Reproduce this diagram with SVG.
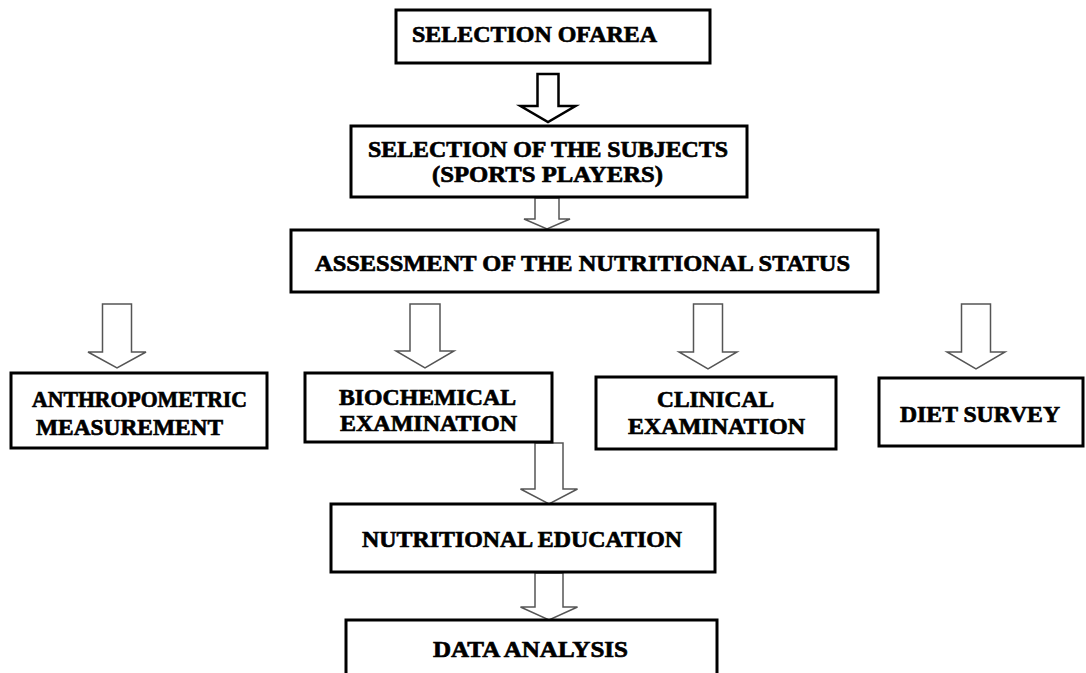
<svg xmlns="http://www.w3.org/2000/svg" width="1086" height="673" viewBox="0 0 1086 673">
<style>
.bx{fill:#fff;stroke:#000;stroke-width:3}
.t{font-family:"Liberation Serif","Times New Roman",serif;font-weight:bold;font-size:24px;fill:#000;stroke:#000;stroke-width:0.7}
.ar{fill:#fff;stroke:#555;stroke-width:1.5;stroke-linejoin:miter}
.ar1{fill:#fff;stroke:#000;stroke-width:2.5;stroke-linejoin:miter}
</style>
<rect width="1086" height="673" fill="#fff"/>
<g id="connectors">
<polygon class="ar1" points="537.5,74 558.5,74 558.5,106 575.5,106 548,122 520.5,106 537.5,106"/>
<polygon class="ar" points="535,198 559,198 559,219 570,219 547,229 524,219 535,219"/>
<polygon class="ar" points="102.5,304 131.5,304 131.5,352 146,352 117,368 88,352 102.5,352"/>
<polygon class="ar" points="410,304 440,304 440,351 454,351 425,368 396,351 410,351"/>
<polygon class="ar" points="693.5,304 722.5,304 722.5,352 737,352 708,369 679,352 693.5,352"/>
<polygon class="ar" points="961.5,304 990.5,304 990.5,352 1005,352 976,369 947,352 961.5,352"/>
<polygon class="ar" points="535,443 563,443 563,489 577.5,489 549,504 520.5,489 535,489"/>
<polygon class="ar" points="535,573 563,573 563,607 577.5,607 549,620 520.5,607 535,607"/>
</g>
<g id="n1"><rect class="bx" x="396" y="10" width="314" height="53"/><text class="t" x="412" y="42" textLength="245" lengthAdjust="spacingAndGlyphs">SELECTION OFAREA</text></g>
<g id="n2"><rect class="bx" x="351" y="126" width="396" height="71"/><text class="t" x="368" y="157" textLength="360" lengthAdjust="spacingAndGlyphs">SELECTION OF THE SUBJECTS</text><text class="t" x="432" y="182" textLength="231" lengthAdjust="spacingAndGlyphs">(SPORTS PLAYERS)</text></g>
<g id="n3"><rect class="bx" x="291" y="230" width="587" height="62"/><text class="t" x="315" y="271" textLength="535" lengthAdjust="spacingAndGlyphs">ASSESSMENT OF THE NUTRITIONAL STATUS</text></g>
<g id="n4"><rect class="bx" x="11" y="373" width="256" height="75"/><text class="t" x="32" y="407" textLength="215" lengthAdjust="spacingAndGlyphs">ANTHROPOMETRIC</text><text class="t" x="36" y="435" textLength="187" lengthAdjust="spacingAndGlyphs">MEASUREMENT</text></g>
<g id="n5"><rect class="bx" x="305" y="373" width="247" height="69"/><text class="t" x="339" y="405" textLength="177" lengthAdjust="spacingAndGlyphs">BIOCHEMICAL</text><text class="t" x="340" y="431" textLength="177" lengthAdjust="spacingAndGlyphs">EXAMINATION</text></g>
<g id="n6"><rect class="bx" x="596" y="377" width="240" height="72"/><text class="t" x="657" y="407" textLength="117" lengthAdjust="spacingAndGlyphs">CLINICAL</text><text class="t" x="628" y="434" textLength="177" lengthAdjust="spacingAndGlyphs">EXAMINATION</text></g>
<g id="n7"><rect class="bx" x="879" y="378" width="204" height="68"/><text class="t" x="900" y="422" textLength="160" lengthAdjust="spacingAndGlyphs">DIET SURVEY</text></g>
<g id="n8"><rect class="bx" x="331" y="504" width="384" height="68"/><text class="t" x="362" y="547" textLength="320" lengthAdjust="spacingAndGlyphs">NUTRITIONAL EDUCATION</text></g>
<g id="n9"><rect class="bx" x="346" y="620" width="371" height="60"/><text class="t" x="433" y="657" textLength="195" lengthAdjust="spacingAndGlyphs">DATA ANALYSIS</text></g>
</svg>
